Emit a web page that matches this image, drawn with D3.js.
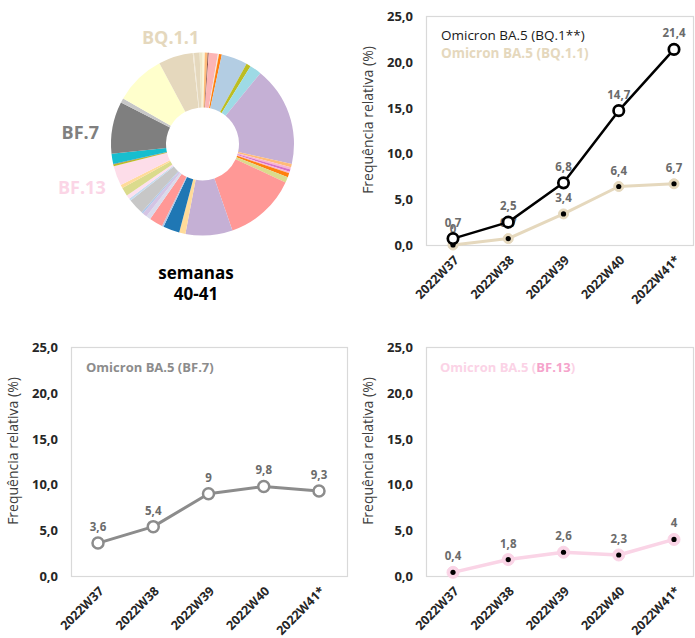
<!DOCTYPE html>
<html>
<head>
<meta charset="utf-8">
<script src="https://cdn.jsdelivr.net/npm/d3@7"></script>
<style>
  html, body { margin: 0; padding: 0; background: #fff; }
  svg { display: block; font-family: "Open Sans", "Noto Sans", sans-serif; }
</style>
</head>
<body>
<svg id="chart" width="695" height="638"></svg>
<script>
// ---------- DATA ----------
const weeks = ["2022W37", "2022W38", "2022W39", "2022W40", "2022W41*"];
const bq1Values = [0.7, 2.5, 6.8, 14.7, 21.4];
const bq11Values = [0, 0.7, 3.4, 6.4, 6.7];
const bf7Values = [3.6, 5.4, 9, 9.8, 9.3];
const bf13Values = [0.4, 1.8, 2.6, 2.3, 4];
const yTicks = [0, 5, 10, 15, 20, 25];

// donut: weeks 40-41 lineage shares (%), clockwise from 12 o'clock
const donutLineages = [
  "L01","L02","L03","L04","L05","L06","L07","L08","L09","L10",
  "L11","L12","L13","L14","L15","L16","L17","L18","L19","L20",
  "L21","L22","L23","L24","L25","L26","L27","L28","L29","L30",
  "BF.13","L32","L33","L34","BF.7","L36","L37","BQ.1.1","L39","L40","L41"
];
const donutShares = [
  0.4, 0.5, 0.2, 1.6, 0.2, 0.5, 4.6, 0.8, 2.1, 17.6,
  0.6, 0.4, 0.4, 0.3, 0.7, 1.0, 12.8, 8.3, 1.1, 2.9,
  0.3, 2.4, 0.8, 0.8, 0.3, 2.8, 0.4, 0.7, 1.5, 0.6,
  3.5, 0.3, 0.1, 1.8, 9.2, 0.8, 8.9, 6.1, 0.2, 1.0, 0.5
];
const donutColors = [
  "#fbf7d8","#ffbb78","#8c564b","#fcb5b5","#f3e6d6","#ff7f0e","#b3cde3","#bcbd22","#9edae5","#c5b0d5",
  "#ffbb78","#f7b6d2","#d670c8","#f7b6d2","#ff7f0e","#dbdb8d","#ff9896","#c5b0d5","#ffdb9a","#1f77b4",
  "#aec7e8","#ff9896","#dadaeb","#d4c4e4","#aec7e8","#c7c7c7","#c6dbef","#fde0ef","#dbdb8d","#ffdb9a",
  "#fddde9","#bcbd22","#8c564b","#17becf","#7f7f7f","#c7c7c7","#ffffcc","#e5d8bd","#f2ead8","#e5d8bd","#efe8c8"
];
const donutLabels = ["BQ.1.1", "BF.7", "BF.13"];
const donutLabelColors = ["#e5d8bd", "#808080", "#fbd5e6"];

// ---------- DRAW ----------
const svg = d3.select("#chart");
const fmt = v => String(v).replace(".", ",");
const fmt1 = v => v.toFixed(1).replace(".", ",");

// Donut
const dcx = 202.5, dcy = 144;
const pie = d3.pie().sort(null).value(d => d);
const arc = d3.arc().innerRadius(36.5).outerRadius(91.5);
const donutG = svg.append("g").attr("transform", `translate(${dcx},${dcy})`);
donutG.selectAll("path")
  .data(pie(donutShares))
  .join("path")
  .attr("d", arc)
  .attr("fill", (d, i) => donutColors[i]);

const donutLabelPos = [
  { x: 142, y: 44, anchor: "start" },
  { x: 99, y: 139, anchor: "end" },
  { x: 58, y: 194, anchor: "start" }
];
svg.selectAll("text.dlabel")
  .data(donutLabels)
  .join("text")
  .attr("class", "dlabel")
  .attr("x", (d, i) => donutLabelPos[i].x)
  .attr("y", (d, i) => donutLabelPos[i].y)
  .attr("text-anchor", (d, i) => donutLabelPos[i].anchor)
  .attr("font-size", 18)
  .attr("font-weight", 700)
  .attr("fill", (d, i) => donutLabelColors[i])
  .text(d => d);

svg.append("text").attr("x", 196).attr("y", 279).attr("text-anchor", "middle")
  .attr("font-size", 17).attr("font-weight", 700).attr("fill", "#000").text("semanas");
svg.append("text").attr("x", 196).attr("y", 300).attr("text-anchor", "middle")
  .attr("font-size", 17).attr("font-weight", 700).attr("fill", "#000").text("40-41");

// Line chart panels
function panel(x0, x1, y0, y1) {
  const g = svg.append("g");
  const x = d3.scalePoint().domain(weeks).range([x0 + 27, x0 + 248]);
  const y = d3.scaleLinear().domain([0, 25]).range([y1, y0 + 0.5]);
  g.append("rect").attr("x", x0 + 0.5).attr("y", y0 + 0.5)
    .attr("width", x1 - x0).attr("height", y1 - y0)
    .attr("fill", "none").attr("stroke", "#d9d9d9").attr("stroke-width", 1.2);

  const yAxis = g.append("g").attr("transform", `translate(${x0},0)`)
    .call(d3.axisLeft(y).tickValues(yTicks).tickFormat(fmt1).tickSize(0).tickPadding(13));
  yAxis.select(".domain").remove();
  yAxis.selectAll("text").attr("font-size", 13).attr("font-weight", 700)
    .attr("fill", "#262626").attr("font-family", "'Open Sans', sans-serif");

  const xAxis = g.append("g").attr("transform", `translate(0,${y1})`)
    .call(d3.axisBottom(x).tickSize(0).tickPadding(0));
  xAxis.select(".domain").remove();
  xAxis.selectAll("text")
    .attr("font-size", 12.5).attr("font-weight", 700).attr("fill", "#262626")
    .attr("font-family", "'Open Sans', sans-serif")
    .attr("text-anchor", "end")
    .attr("dy", null).attr("y", 0)
    .attr("transform", "translate(6,16) rotate(-45)");

  g.append("text")
    .attr("transform", `translate(${x0 - 53},${y0 + 104}) rotate(-90)`)
    .attr("text-anchor", "middle").attr("font-size", 14).attr("fill", "#404040")
    .text("Frequência relativa (%)");
  return { g, x, y };
}

function series(p, values, opt) {
  const line = d3.line().x((d, i) => p.x(weeks[i])).y(d => p.y(d));
  p.g.append("path").datum(values).attr("d", line)
    .attr("fill", "none").attr("stroke", opt.color).attr("stroke-width", opt.width)
    .attr("stroke-linejoin", "round");
  p.g.selectAll(null).data(values).join("circle")
    .attr("cx", (d, i) => p.x(weeks[i])).attr("cy", d => p.y(d))
    .attr("r", opt.r).attr("fill", opt.fill).attr("stroke", opt.color).attr("stroke-width", opt.mw);
  if (opt.dot) {
    p.g.selectAll(null).data(values).join("circle")
      .attr("cx", (d, i) => p.x(weeks[i])).attr("cy", d => p.y(d))
      .attr("r", 2.6).attr("fill", "#000");
  }
  p.g.selectAll(null).data(values).join("text")
    .attr("x", (d, i) => p.x(weeks[i])).attr("y", d => p.y(d) - 12)
    .attr("text-anchor", "middle").attr("font-size", 11.5).attr("font-weight", 700)
    .attr("fill", "#6b6b6b").text(d => fmt(d));
}

// Top right: BQ.1** and BQ.1.1
const p1 = panel(426, 693, 16, 245);
series(p1, bq11Values, { color: "#e5d8bd", width: 3, r: 5, fill: "#e5d8bd", mw: 1, dot: true });
series(p1, bq1Values, { color: "#000", width: 2.5, r: 5.2, fill: "#fff", mw: 2.7, dot: false });
p1.g.append("text").attr("x", 441).attr("y", 40).attr("font-size", 13.5).attr("fill", "#1a1a1a")
  .text("Omicron BA.5 (BQ.1**)");
p1.g.append("text").attr("x", 441).attr("y", 58).attr("font-size", 13.5).attr("font-weight", 700)
  .attr("fill", "#e5d8bd").text("Omicron BA.5 (BQ.1.1)");

// Bottom left: BF.7
const p2 = panel(71, 347, 347, 576);
series(p2, bf7Values, { color: "#8c8c8c", width: 3, r: 5.5, fill: "#fff", mw: 2.5, dot: false });
p2.g.append("text").attr("x", 86).attr("y", 372).attr("font-size", 13).attr("font-weight", 700)
  .attr("fill", "#8c8c8c").text("Omicron BA.5 (BF.7)");

// Bottom right: BF.13
const p3 = panel(426, 693, 347, 576);
series(p3, bf13Values, { color: "#fad4e6", width: 3.5, r: 6, fill: "#fad4e6", mw: 1, dot: true });
const lg = p3.g.append("text").attr("x", 440).attr("y", 372).attr("font-size", 13).attr("font-weight", 700);
lg.append("tspan").attr("fill", "#fbd3e6").text("Omicron BA.5 (");
lg.append("tspan").attr("fill", "#f5a3cb").text("BF.13");
lg.append("tspan").attr("fill", "#fbd3e6").text(")");
</script>
</body>
</html>
